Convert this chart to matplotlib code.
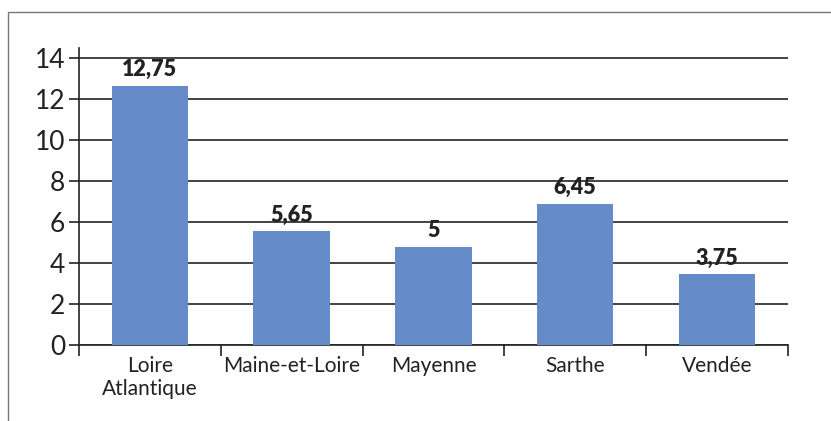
import matplotlib
matplotlib.use("Agg")
import matplotlib.pyplot as plt
from matplotlib.patches import Rectangle

# departements et valeurs (hauteurs)
departements = ["Loire\nAtlantique", "Maine-et-Loire", "Mayenne", "Sarthe", "Vendée"]
hauteurs = [12.65, 5.55, 4.8, 6.9, 3.45]
etiquettes = ["12,75", "5,65", "5", "6,45", "3,75"]
yticks = [0, 2, 4, 6, 8, 10, 12, 14]

couleur_barre = "#658CC8"
couleur_trait = "#222222"

plt.rcParams["font.family"] = ["Lato", "DejaVu Sans"]

fig = plt.figure(figsize=(8.31, 4.21), dpi=100)
ax = fig.add_axes([0.0951, 0.1805, 0.853, 0.7055])

x = list(range(len(departements)))
barres = ax.bar(x, hauteurs, width=0.54, color=couleur_barre, zorder=3)

for b, txt in zip(barres, etiquettes):
    ax.annotate(txt, (b.get_x() + b.get_width() / 2, b.get_height()),
                xytext=(0, 4), textcoords="offset points",
                ha="center", va="bottom", fontsize=15.5, fontweight="heavy",
                color=couleur_trait)

ax.set_xlim(-0.5, len(departements) - 0.5)
ax.set_ylim(0, 14.5)
ax.set_yticks(yticks)
ax.set_yticklabels([str(v) for v in yticks], fontsize=19, color=couleur_trait)
ax.yaxis.grid(True, color=couleur_trait, linewidth=1.2, zorder=0)
ax.set_axisbelow(True)

ax.set_xticks(x)
ax.set_xticklabels(departements, fontsize=15, color=couleur_trait, linespacing=1.15)
ax.tick_params(axis="x", which="major", length=0, pad=8)
ax.set_xticks([i - 0.5 for i in range(len(departements) + 1)], minor=True)
ax.tick_params(axis="x", which="minor", length=8, width=1.2, color=couleur_trait)
ax.tick_params(axis="y", length=7, width=1.2, color=couleur_trait, pad=3)

for s in ["top", "right"]:
    ax.spines[s].set_visible(False)
for s in ["left", "bottom"]:
    ax.spines[s].set_color(couleur_trait)
    ax.spines[s].set_linewidth(1.2)

# cadre gris autour du graphique
fig.patches.append(Rectangle((8 / 831, -0.1), 1.2, 1.1 - 12 / 421,
                             transform=fig.transFigure, fill=False,
                             edgecolor="#777777", linewidth=1))

fig.savefig("out.png", dpi=100)
